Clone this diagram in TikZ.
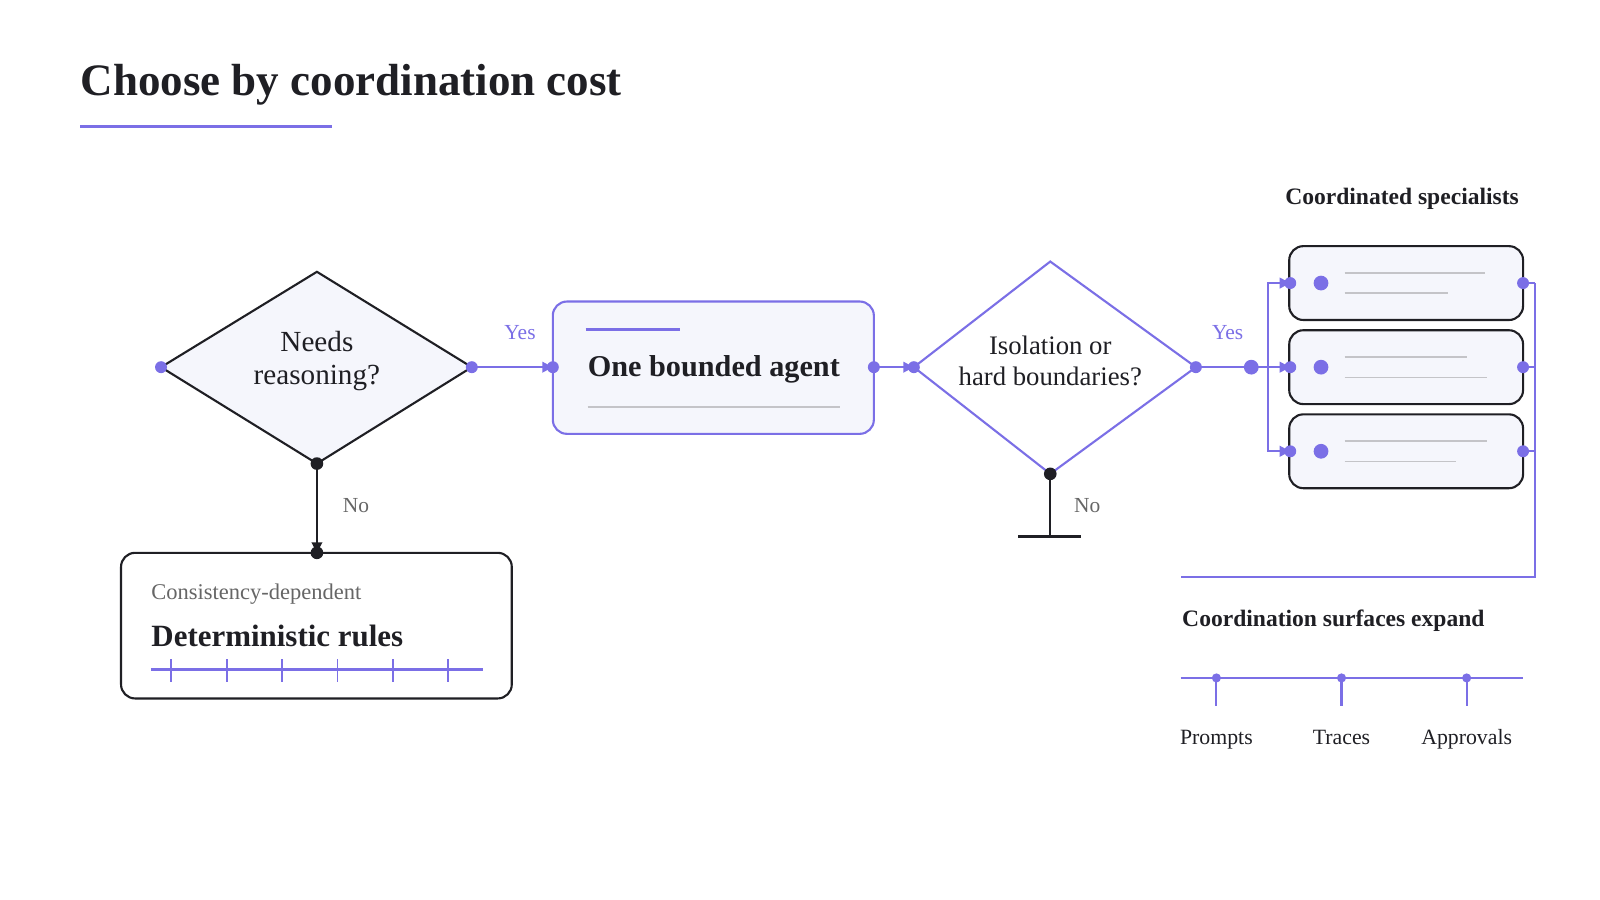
\documentclass[tikz,border=0pt]{standalone}
\usepackage{fontspec}
\setmainfont{Liberation Serif}
\usetikzlibrary{arrows.meta}
\definecolor{pur}{HTML}{7B6FE6}
\definecolor{ink}{HTML}{1F1F24}
\definecolor{pale}{HTML}{F5F6FC}
\definecolor{gtx}{HTML}{666666}
\definecolor{gln}{HTML}{C4C4C8}
\newcommand{\fs}[1]{\fontsize{#1}{#1}\selectfont}
\begin{document}
\begin{tikzpicture}[x=0.010256cm,y=-0.010256cm,
  pl/.style={draw=pur,line width=0.6pt},
  dl/.style={draw=ink,line width=0.6pt},
  gl/.style={draw=gln,line width=0.5pt},
  pdot/.style={circle,fill=pur,inner sep=0pt,minimum size=3.4pt},
  bdot/.style={circle,fill=pur,inner sep=0pt,minimum size=4.2pt},
  kdot/.style={circle,fill=ink,inner sep=0pt,minimum size=3.6pt},
  arr/.style={-{Triangle[length=3pt,width=3pt]}},
  lbl/.style={font=\fs{6.1}},
  box/.style={rounded corners=4pt,fill=pale,line width=0.6pt}]
\useasboundingbox (0,0) rectangle (1560,877.5);
% title
\node[anchor=west,inner sep=0pt,font=\fs{12.8}\bfseries,text=ink] (title) at (78,83) {Choose by coordination cost};
\draw[pur,line width=0.85pt] (78,123) coordinate (u1) -- (324,123) coordinate (u2);
% diamond 1
\coordinate (d1l) at (157,358); \coordinate (d1r) at (460,358);
\coordinate (d1t) at (309,265); \coordinate (d1b) at (309,452);
\draw[dl,fill=pale] (d1l) -- (d1t) -- (d1r) -- (d1b) -- cycle;
\node[align=center,font=\fs{8.3},text=ink] (d1) at (309,352) {Needs\\[1pt]reasoning?};
% rules box
\draw[dl,rounded corners=4pt,fill=white] (118,539) rectangle (499,681);
\node[anchor=west,inner sep=0pt,font=\fs{6.4},text=gtx] (cd) at (147,579) {Consistency-dependent};
\node[anchor=west,inner sep=0pt,font=\fs{8.8}\bfseries,text=ink] (dr) at (147,620) {Deterministic rules};
\draw[pur,line width=0.85pt] (147,653) -- (471,653);
\foreach \x in {167,221,275,329,383,437} \draw[pur,line width=0.5pt] (\x,643) -- (\x,665);
\coordinate (rt) at (309,539);
\draw[dl,arr] (d1b) -- (rt);
\node[kdot] at (d1b) {}; \node[kdot] at (rt) {};
\node[lbl,text=gtx] (no1) at (347,493) {No};
% agent box
\draw[draw=pur,box] (539,294) rectangle (852,423);
\draw[pur,line width=0.85pt] (571,321) -- (663,321);
\draw[gl] (573,397) -- (819,397);
\node[font=\fs{8.6}\bfseries,text=ink] (agent) at (696,360) {One bounded agent};
\coordinate (al) at (539,358); \coordinate (ar) at (852,358);
\draw[pl,arr] (d1r) -- (al);
\node[lbl,text=pur] (yes1) at (507,324) {Yes};
\node[pdot] at (d1l) {}; \node[pdot] at (d1r) {}; \node[pdot] at (al) {}; \node[pdot] at (ar) {};
% diamond 2
\coordinate (d2l) at (891,358); \coordinate (d2r) at (1166,358);
\coordinate (d2t) at (1024,255); \coordinate (d2b) at (1024,462);
\draw[pl,fill=white] (d2l) -- (d2t) -- (d2r) -- (d2b) -- cycle;
\node[align=center,font=\fs{7.6},text=ink] (d2) at (1024,352) {Isolation or\\[1pt]hard boundaries?};
\draw[pl,arr] (ar) -- (d2l);
\node[pdot] at (d2l) {}; \node[pdot] at (d2r) {};
\coordinate (gnd) at (1024,523);
\draw[dl] (d2b) -- (gnd);
\draw[ink,line width=0.85pt] (993,523) -- (1054,523);
\node[kdot] at (d2b) {};
\node[lbl,text=gtx] (no2) at (1060,493) {No};
\node[lbl,text=pur] (yes2) at (1197,324) {Yes};
% specialists
\node[font=\fs{6.7}\bfseries,text=ink] (cs) at (1367,194) {Coordinated specialists};
\coordinate (hub) at (1220,358);
\draw[pl] (d2r) -- (hub);
\foreach \cy/\la/\lb [count=\i] in {276/1448/1412,358/1430/1450,440/1450/1420}{
  \draw[draw=ink,box] (1257,\cy-36) rectangle (1485,\cy+36);
  \node[bdot] (s\i) at (1288,\cy) {};
  \draw[gl] (1311,\cy-10) -- (\la,\cy-10);
  \draw[gl] (1311,\cy+10) -- (\lb,\cy+10);
  \coordinate (in\i) at (1258,\cy);
  \coordinate (out\i) at (1485,\cy);
  \draw[pl,arr] (hub) -| (1236,\cy) -- (in\i);
  \draw[pl] (out\i) -- (1497,\cy);
  \node[pdot] at (in\i) {}; \node[pdot] at (out\i) {};
}
\node[bdot] at (hub) {};
\coordinate (fb) at (1151,563);
\draw[pl] (1497,276) -- (1497,563) -- (fb);
% surfaces
\node[anchor=west,inner sep=0pt,font=\fs{6.7}\bfseries,text=ink] (se) at (1152,605) {Coordination surfaces expand};
\draw[pl] (1151,661) -- (1485,661);
\foreach \x/\t in {1186/Prompts,1308/Traces,1430/Approvals}{
  \draw[pl] (\x,661) -- (\x,688);
  \node[circle,fill=pur,inner sep=0pt,minimum size=2.6pt] at (\x,661) {};
  \node[font=\fs{6.2},text=ink,anchor=base] at (\x,726) {\t};
}
\end{tikzpicture}
\end{document}
